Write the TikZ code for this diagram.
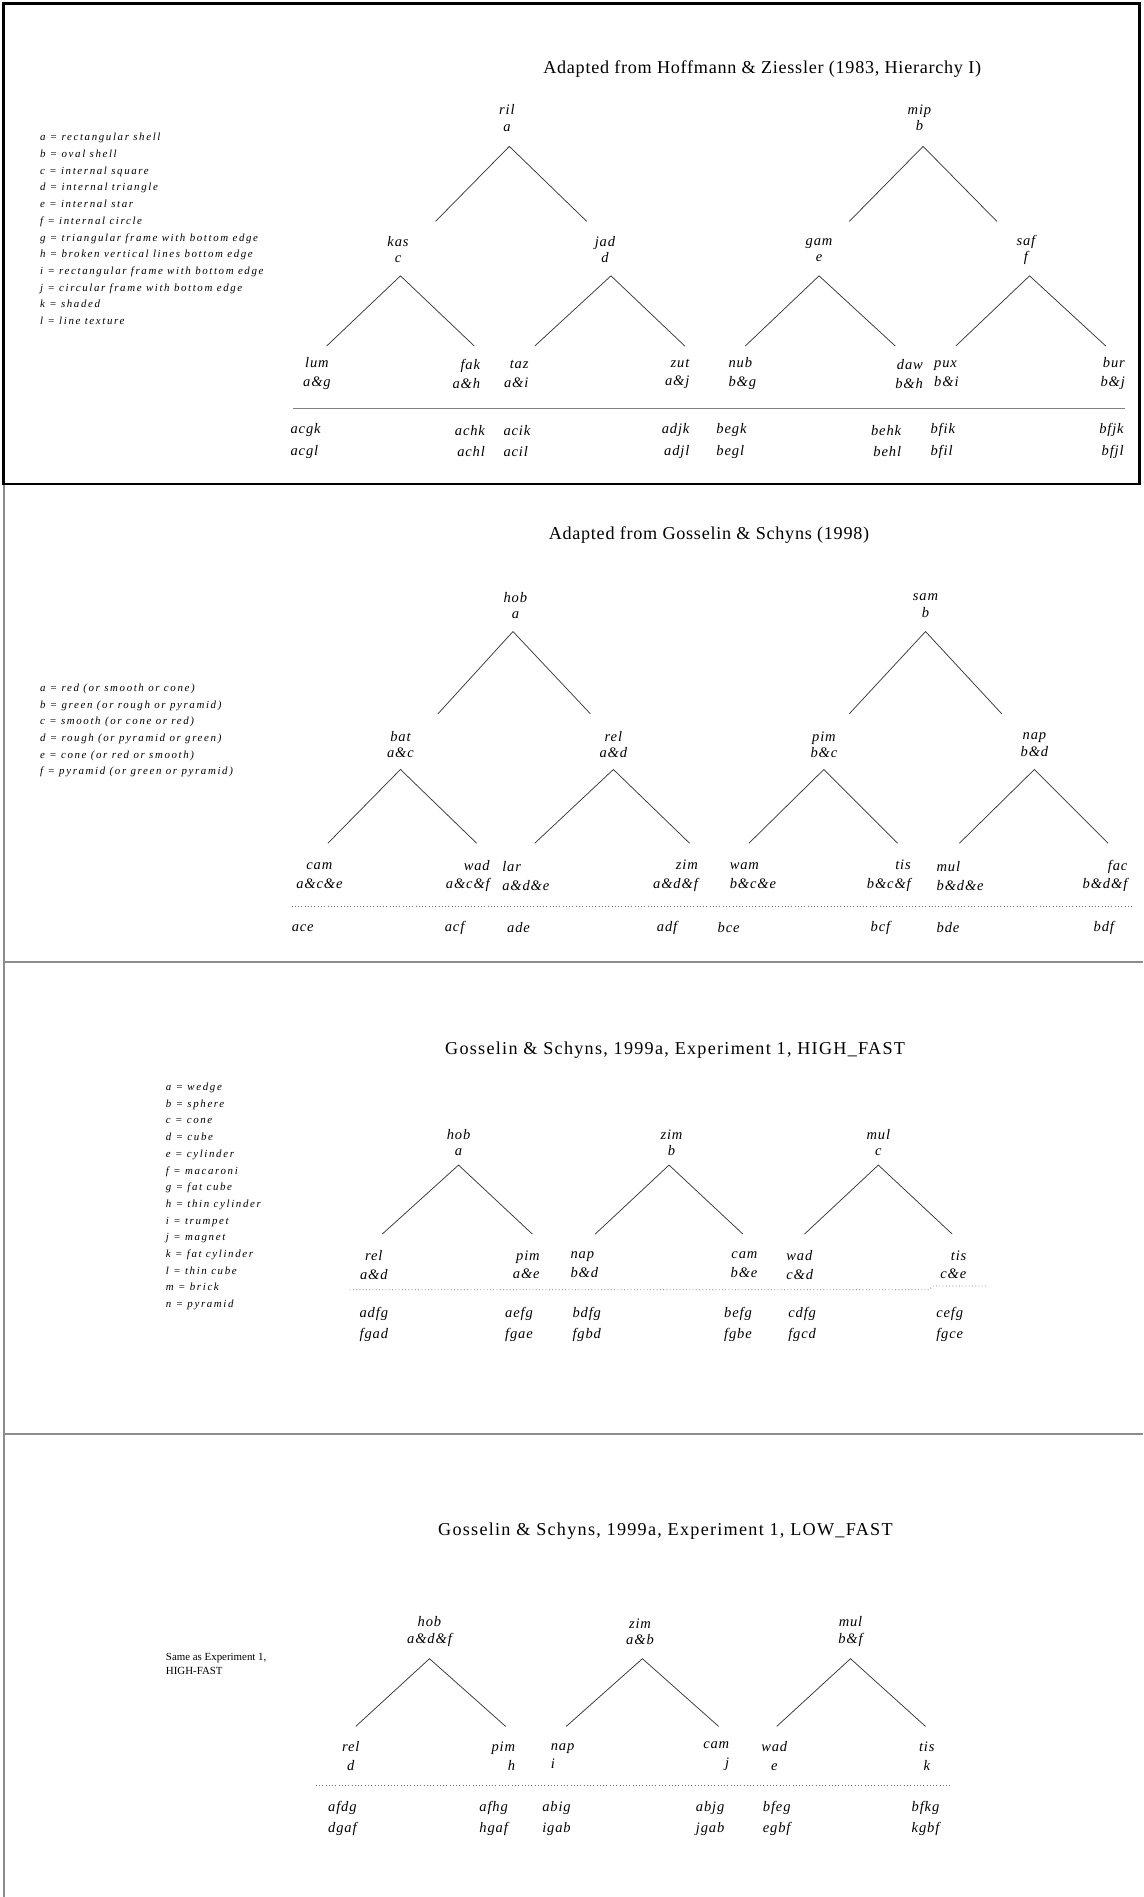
\documentclass[tikz,border=0pt]{standalone}
\usepackage{fontspec}
\setmainfont{Liberation Serif}
\newfontfamily\ttlfamily{Liberation Serif}[LetterSpace=4]
\newfontfamily\widefamily{Liberation Serif}[LetterSpace=7]
\newfontfamily\lblfamily{Liberation Serif}[LetterSpace=6]
\newfontfamily\legfamily{Liberation Serif}[LetterSpace=15]

\begin{document}
\begin{tikzpicture}[
  x=1pt, y=-1pt,
  ttl/.style={font=\ttlfamily\fontsize{15}{18}\selectfont, inner sep=0pt},
  ttlw/.style={font=\widefamily\fontsize{15}{18}\selectfont, inner sep=0pt},
  lbl/.style={font=\lblfamily\itshape\fontsize{12}{13.5}\selectfont,
              inner sep=0pt, align=center},
  leaf/.style={lbl, font=\lblfamily\itshape\fontsize{12}{15.5}\selectfont},
  pair/.style={lbl, font=\lblfamily\itshape\fontsize{12}{17.5}\selectfont},
  lft/.style={anchor=west, align=left},
  rgt/.style={anchor=east, align=right},
  legtext/.style={font=\legfamily\itshape\fontsize{9}{13.8}\selectfont,
                  inner sep=0pt, anchor=north west, align=left},
  branch/.style={draw=black!80, line width=0.6pt},
  solidrule/.style={draw=black!50, line width=0.7pt},
  dotline/.style={draw=black!55, line width=0.7pt, dotted},
  sepline/.style={draw=black!45, line width=1.6pt},
]
\useasboundingbox (0,0) rectangle (945,1568);

% frames
\draw[line width=2.2pt] (3,3) rectangle (942,400);
\draw[sepline] (3,401) -- (3,1568);
\draw[sepline] (3,795) -- (945,795);
\draw[sepline] (3,1185) -- (945,1185);

% Panel 1: Hoffmann & Ziessler
\node[ttl] (t1) at (630,57) {Adapted from Hoffmann \& Ziessler (1983, Hierarchy I)};
\node[legtext] (leg1) at (33,110) {a = rectangular shell\\b = oval shell\\c = internal square\\d = internal triangle\\e = internal star\\f = internal circle\\g = triangular frame with bottom edge\\h = broken vertical lines bottom edge\\i = rectangular frame with bottom edge\\j = circular frame with bottom edge\\k = shaded\\l = line texture};

\node[lbl] (ril) at (419,97.5) {ril\\a};
\node[lbl] (mip) at (760,97.5) {mip\\b};
\node[lbl] (kas) at (329,206.5) {kas\\c};
\node[lbl] (jad) at (500,206.5) {jad\\d};
\node[lbl] (gam) at (677,206.5) {gam\\e};
\node[lbl] (saf) at (848,206.5) {saf\\f};

\coordinate (ril-t) at (421,121); \coordinate (ril-l) at (360,183); \coordinate (ril-r) at (485,183);
\coordinate (mip-t) at (763,121); \coordinate (mip-l) at (702,183); \coordinate (mip-r) at (824,183);
\coordinate (kas-t) at (331,228); \coordinate (kas-l) at (270,286); \coordinate (kas-r) at (392,286);
\coordinate (jad-t) at (505,228); \coordinate (jad-l) at (442,286); \coordinate (jad-r) at (566,286);
\coordinate (gam-t) at (677,228); \coordinate (gam-l) at (616,286); \coordinate (gam-r) at (740,286);
\coordinate (saf-t) at (851,228); \coordinate (saf-l) at (790,286); \coordinate (saf-r) at (914,286);
\draw[branch] (ril-l) -- (ril-t) -- (ril-r);
\draw[branch] (mip-l) -- (mip-t) -- (mip-r);
\draw[branch] (kas-l) -- (kas-t) -- (kas-r);
\draw[branch] (jad-l) -- (jad-t) -- (jad-r);
\draw[branch] (gam-l) -- (gam-t) -- (gam-r);
\draw[branch] (saf-l) -- (saf-t) -- (saf-r);

\node[leaf] (lum) at (262,309) {lum\\a\&g};
\node[leaf, rgt] (fak) at (397,309) {fak\\a\&h};
\node[leaf, rgt] (taz) at (437,309) {taz\\a\&i};
\node[leaf, rgt] (zut) at (570,309) {zut\\a\&j};
\node[leaf, lft] (nub) at (602,309) {nub\\b\&g};
\node[leaf, rgt] (daw) at (763,309) {daw\\b\&h};
\node[leaf, lft] (pux) at (772,309) {pux\\b\&i};
\node[leaf, rgt] (bur) at (930,309) {bur\\b\&j};

\draw[solidrule] (242,338) -- (930,338);

\node[pair, lft] (acgk) at (240,364.5) {acgk\\acgl};
\node[pair, rgt] (achk) at (401,364.5) {achk\\achl};
\node[pair, lft] (acik) at (416,364.5) {acik\\acil};
\node[pair, rgt] (adjk) at (570,364.5) {adjk\\adjl};
\node[pair, lft] (begk) at (592,364.5) {begk\\begl};
\node[pair, rgt] (behk) at (745,364.5) {behk\\behl};
\node[pair, lft] (bfik) at (769,364.5) {bfik\\bfil};
\node[pair, rgt] (bfjk) at (929,364.5) {bfjk\\bfjl};

% Panel 2: Gosselin & Schyns 1998
\node[ttl] (t2) at (586,442) {Adapted from Gosselin \& Schyns (1998)};
\node[legtext] (leg2) at (33,565) {a = red (or smooth or cone)\\b = green (or rough or pyramid)\\c = smooth (or cone or red)\\d = rough (or pyramid or green)\\e = cone (or red or smooth)\\f = pyramid (or green or pyramid)};

\node[lbl] (hob2) at (426,500.5) {hob\\a};
\node[lbl] (sam2) at (765,500.5) {sam\\b};
\node[lbl] (bat2) at (331,615.5) {bat\\a\&c};
\node[lbl] (rel2) at (507,615.5) {rel\\a\&d};
\node[lbl] (pim2) at (681,615.5) {pim\\b\&c};
\node[lbl] (nap2) at (855,615.5) {nap\\b\&d};

\coordinate (hob2-t) at (424,522); \coordinate (hob2-l) at (362,590); \coordinate (hob2-r) at (488,590);
\coordinate (sam2-t) at (765,522); \coordinate (sam2-l) at (702,590); \coordinate (sam2-r) at (828,590);
\coordinate (bat2-t) at (331,636); \coordinate (bat2-l) at (271,697); \coordinate (bat2-r) at (394,697);
\coordinate (rel2-t) at (507,636); \coordinate (rel2-l) at (442,697); \coordinate (rel2-r) at (570,697);
\coordinate (pim2-t) at (681,636); \coordinate (pim2-l) at (619,697); \coordinate (pim2-r) at (742,697);
\coordinate (nap2-t) at (855,636); \coordinate (nap2-l) at (793,697); \coordinate (nap2-r) at (916,697);
\draw[branch] (hob2-l) -- (hob2-t) -- (hob2-r);
\draw[branch] (sam2-l) -- (sam2-t) -- (sam2-r);
\draw[branch] (bat2-l) -- (bat2-t) -- (bat2-r);
\draw[branch] (rel2-l) -- (rel2-t) -- (rel2-r);
\draw[branch] (pim2-l) -- (pim2-t) -- (pim2-r);
\draw[branch] (nap2-l) -- (nap2-t) -- (nap2-r);

\node[leaf] (cam2) at (264,724) {cam\\a\&c\&e};
\node[leaf, rgt] (wad2) at (405,724) {wad\\a\&c\&f};
\node[leaf, lft] (lar2) at (415,724) {lar\\a\&d\&e};
\node[leaf, rgt] (zim2) at (577,724) {zim\\a\&d\&f};
\node[leaf, lft] (wam2) at (603,724) {wam\\b\&c\&e};
\node[leaf, rgt] (tis2) at (753,724) {tis\\b\&c\&f};
\node[leaf, lft] (mul2) at (774,724) {mul\\b\&d\&e};
\node[leaf, rgt] (fac2) at (932,724) {fac\\b\&d\&f};

\draw[dotline] (241,749) -- (935,749);

\node[pair, lft] (ace) at (241,767) {ace};
\node[pair, rgt] (acf) at (384,767) {acf};
\node[pair, lft] (ade) at (419,767) {ade};
\node[pair, rgt] (adf) at (560,767) {adf};
\node[pair, lft] (bce) at (593,767) {bce};
\node[pair, rgt] (bcf) at (736,767) {bcf};
\node[pair, lft] (bde) at (774,767) {bde};
\node[pair, rgt] (bdf) at (921,767) {bdf};

% Panel 3: HIGH_FAST
\node[ttlw] (t3) at (558,868) {Gosselin \& Schyns, 1999a, Experiment 1, HIGH\_FAST};
\node[legtext] (leg3) at (137,895) {a = wedge\\b = sphere\\c = cone\\d = cube\\e = cylinder\\f = macaroni\\g = fat cube\\h = thin cylinder\\i = trumpet\\j = magnet\\k = fat cylinder\\l = thin cube\\m = brick\\n = pyramid};

\node[lbl] (hob3) at (379,944.5) {hob\\a};
\node[lbl] (zim3) at (555,944.5) {zim\\b};
\node[lbl] (mul3) at (726,944.5) {mul\\c};

\coordinate (hob3-t) at (379,963); \coordinate (hob3-l) at (316,1020); \coordinate (hob3-r) at (440,1020);
\coordinate (zim3-t) at (553,963); \coordinate (zim3-l) at (492,1020); \coordinate (zim3-r) at (614,1020);
\coordinate (mul3-t) at (726,963); \coordinate (mul3-l) at (665,1020); \coordinate (mul3-r) at (787,1020);
\draw[branch] (hob3-l) -- (hob3-t) -- (hob3-r);
\draw[branch] (zim3-l) -- (zim3-t) -- (zim3-r);
\draw[branch] (mul3-l) -- (mul3-t) -- (mul3-r);

\node[leaf] (rel3) at (309,1045.5) {rel\\a\&d};
\node[leaf, align=right] (pim3) at (435,1045.5) {pim\\a\&e};
\node[leaf, align=left] (nap3) at (483,1045.5) {nap\\b\&d};
\node[leaf, align=right] (cam3) at (615,1045.5) {cam\\b\&e};
\node[leaf, align=left] (wad3) at (661,1045.5) {wad\\c\&d};
\node[leaf, align=right] (tis3) at (788,1045.5) {tis\\c\&e};

\draw[dotline] (289,1066) -- (768,1066) -- (771,1063) -- (815,1063);

\node[pair] (adfg) at (309,1095) {adfg\\fgad};
\node[pair] (aefg) at (429,1095) {aefg\\fgae};
\node[pair] (bdfg) at (485,1095) {bdfg\\fgbd};
\node[pair] (befg) at (610,1095) {befg\\fgbe};
\node[pair] (cdfg) at (663,1095) {cdfg\\fgcd};
\node[pair] (cefg) at (785,1095) {cefg\\fgce};

% Panel 4: LOW_FAST
\node[ttlw] (t4) at (550,1266) {Gosselin \& Schyns, 1999a, Experiment 1, LOW\_FAST};
\node[font=\rmfamily\fontsize{9}{12}\selectfont, inner sep=0pt, anchor=north west, align=left] (leg4) at (137,1366) {Same as Experiment 1,\\HIGH-FAST};

\node[lbl] (hob4) at (355,1348.5) {hob\\a\&d\&f};
\node[lbl] (zim4) at (529,1348.5) {zim\\a\&b};
\node[lbl] (mul4) at (703,1348.5) {mul\\b\&f};

\coordinate (hob4-t) at (355,1371); \coordinate (hob4-l) at (294,1427); \coordinate (hob4-r) at (418,1427);
\coordinate (zim4-t) at (531,1371); \coordinate (zim4-l) at (468,1427); \coordinate (zim4-r) at (594,1427);
\coordinate (mul4-t) at (703,1371); \coordinate (mul4-l) at (642,1427); \coordinate (mul4-r) at (765,1427);
\draw[branch] (hob4-l) -- (hob4-t) -- (hob4-r);
\draw[branch] (zim4-l) -- (zim4-t) -- (zim4-r);
\draw[branch] (mul4-l) -- (mul4-t) -- (mul4-r);

\node[leaf] (rel4) at (290,1451.5) {rel\\d};
\node[leaf, align=right] (pim4) at (416,1451.5) {pim\\h};
\node[leaf, align=left] (nap4) at (465,1451.5) {nap\\i};
\node[leaf, align=right] (cam4) at (592,1451.5) {cam\\j};
\node[leaf] (wad4) at (640,1451.5) {wad\\e};
\node[leaf] (tis4) at (766,1451.5) {tis\\k};

\draw[dotline] (261,1476) -- (787,1476);

\node[pair] (afdg) at (283,1503) {afdg\\dgaf};
\node[pair] (afhg) at (408,1503) {afhg\\hgaf};
\node[pair] (abig) at (460,1503) {abig\\igab};
\node[pair] (abjg) at (587,1503) {abjg\\jgab};
\node[pair] (bfeg) at (642,1503) {bfeg\\egbf};
\node[pair] (bfkg) at (765,1503) {bfkg\\kgbf};
\end{tikzpicture}
\end{document}
